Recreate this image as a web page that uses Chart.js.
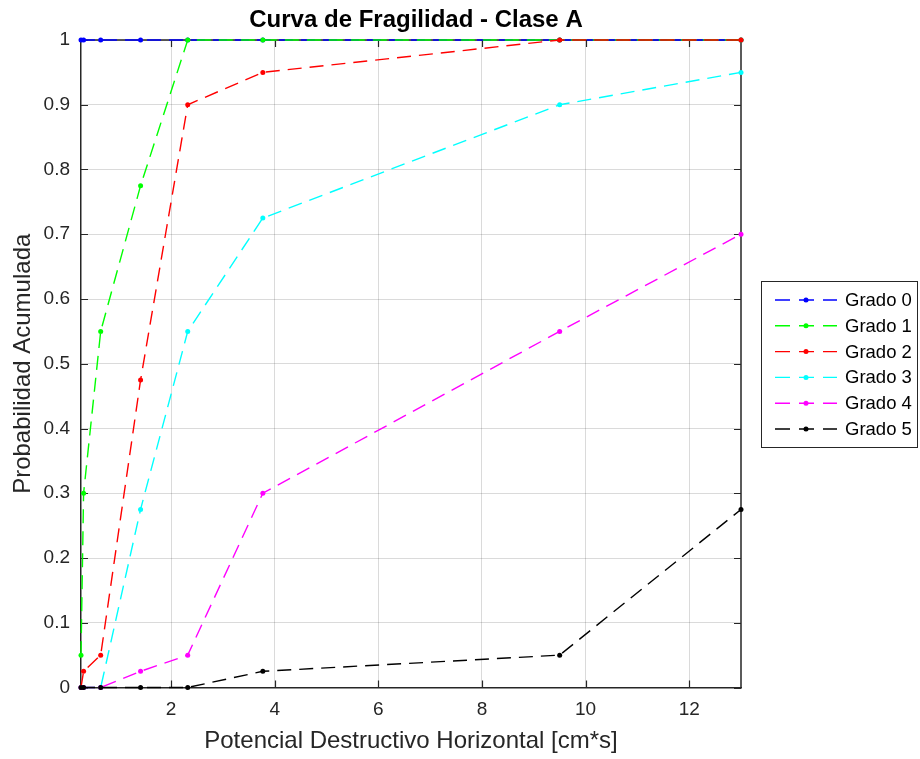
<!DOCTYPE html>
<html>
<head>
<meta charset="utf-8">
<script src="https://cdn.jsdelivr.net/npm/chart.js@4.4.1/dist/chart.umd.min.js"></script>
<style>
    body { margin: 0; background: #fff; }
    canvas { display: block; }
</style>
</head>
<body>
<canvas id="fragility-chart" width="920" height="759"></canvas>
<script>
const xValues = [0.26, 0.31, 0.64, 1.41, 2.32, 3.77, 9.5, 13];
const grado0 = [1, 1, 1, 1, 1, 1, 1, 1];
const grado1 = [0.05, 0.3, 0.55, 0.775, 1, 1, 1, 1];
const grado2 = [0, 0.025, 0.05, 0.475, 0.9, 0.95, 1, 1];
const grado3 = [0, 0, 0, 0.275, 0.55, 0.725, 0.9, 0.95];
const grado4 = [0, 0, 0, 0.025, 0.05, 0.3, 0.55, 0.7];
const grado5 = [0, 0, 0, 0, 0, 0.025, 0.05, 0.275];

const seriesNames = ["Grado 0", "Grado 1", "Grado 2", "Grado 3", "Grado 4", "Grado 5"];
const seriesColors = ["#0000ff", "#00ff00", "#ff0000", "#00ffff", "#ff00ff", "#000000"];
const xTicks = [2, 4, 6, 8, 10, 12];
const yTicks = [0, 0.1, 0.2, 0.3, 0.4, 0.5, 0.6, 0.7, 0.8, 0.9, 1];

const FONT = "'Liberation Sans', Arial, sans-serif";
const AXIS_COLOR = "#262626";
const GRID_COLOR = "rgba(38,38,38,0.17)";

const toPoints = values => values.map((y, i) => ({ x: xValues[i], y }));

const datasets = [grado0, grado1, grado2, grado3, grado4, grado5].map((values, i) => ({
    label: seriesNames[i],
    data: toPoints(values),
    showLine: true,
    borderColor: seriesColors[i],
    backgroundColor: seriesColors[i],
    borderWidth: 1.4,
    borderDash: [14, 8],
    pointRadius: 2.5,
    pointBorderWidth: 0,
    pointHoverRadius: 2.5,
    clip: false,
    // later series sit on top
    order: 10 - i
}));

// box lines on top/right, inward ticks, title and legend
const framePlugin = {
    id: "frame",
    beforeDatasetsDraw(chart) {
        const { ctx, chartArea: a, scales: { x, y } } = chart;
        ctx.save();
        ctx.strokeStyle = AXIS_COLOR;
        ctx.lineWidth = 1.5;
        ctx.beginPath();
        ctx.moveTo(a.left, a.top);
        ctx.lineTo(a.right, a.top);
        ctx.lineTo(a.right, a.bottom);
        ctx.stroke();

        ctx.lineWidth = 1.2;
        const len = 7;
        ctx.beginPath();
        xTicks.forEach(v => {
            const px = Math.round(x.getPixelForValue(v)) + 0.5;
            ctx.moveTo(px, a.bottom);
            ctx.lineTo(px, a.bottom - len);
            ctx.moveTo(px, a.top);
            ctx.lineTo(px, a.top + len);
        });
        yTicks.forEach(v => {
            const py = Math.round(y.getPixelForValue(v)) + 0.5;
            ctx.moveTo(a.left, py);
            ctx.lineTo(a.left + len, py);
            ctx.moveTo(a.right, py);
            ctx.lineTo(a.right - len, py);
        });
        ctx.stroke();
        ctx.restore();
    },
    afterDraw(chart) {
        const { ctx, chartArea: a } = chart;
        ctx.save();

        ctx.fillStyle = "#000";
        ctx.font = `bold 24px ${FONT}`;
        ctx.textAlign = "center";
        ctx.textBaseline = "middle";
        ctx.fillText("Curva de Fragilidad - Clase A", (a.left + a.right) / 2 + 5, 20);

        // legend
        const bx = 761.5, by = 281.5, bw = 156, bh = 166;
        ctx.fillStyle = "#fff";
        ctx.fillRect(bx, by, bw, bh);
        ctx.strokeStyle = AXIS_COLOR;
        ctx.lineWidth = 1;
        ctx.strokeRect(bx, by, bw, bh);

        ctx.font = `18.5px ${FONT}`;
        ctx.textAlign = "left";
        chart.data.datasets.forEach((ds, i) => {
            const ry = 300 + i * 25.8;
            ctx.strokeStyle = ds.borderColor;
            ctx.lineWidth = 1.4;
            ctx.setLineDash([15, 9]);
            ctx.beginPath();
            ctx.moveTo(775, ry);
            ctx.lineTo(837, ry);
            ctx.stroke();
            ctx.setLineDash([]);
            ctx.fillStyle = ds.borderColor;
            ctx.beginPath();
            ctx.arc(806, ry, 2.5, 0, Math.PI * 2);
            ctx.fill();
            ctx.fillStyle = "#000";
            ctx.fillText(ds.label, 845, ry + 1);
        });
        ctx.restore();
    }
};

const ctx = document.getElementById("fragility-chart").getContext("2d");

new Chart(ctx, {
    type: "scatter",
    data: { datasets },
    plugins: [framePlugin],
    options: {
        responsive: false,
        animation: false,
        events: [],
        layout: {
            padding: { left: 0, top: 40, right: 179, bottom: 0 }
        },
        plugins: {
            legend: { display: false },
            tooltip: { enabled: false }
        },
        scales: {
            x: {
                type: "linear",
                min: 0.26,
                max: 13,
                afterBuildTicks: scale => { scale.ticks = xTicks.map(value => ({ value })); },
                afterFit: scale => { scale.height = 71.5; },
                grid: { color: GRID_COLOR, drawTicks: false },
                border: { color: AXIS_COLOR, width: 1.5 },
                ticks: {
                    color: AXIS_COLOR,
                    padding: 11,
                    maxRotation: 0,
                    font: { family: FONT, size: 19 }
                },
                title: {
                    display: true,
                    text: "Potencial Destructivo Horizontal [cm*s]",
                    color: AXIS_COLOR,
                    padding: { top: 0, bottom: 3 },
                    font: { family: FONT, size: 24 }
                }
            },
            y: {
                type: "linear",
                min: 0,
                max: 1,
                afterBuildTicks: scale => { scale.ticks = yTicks.map(value => ({ value })); },
                afterFit: scale => { scale.width = 81; },
                grid: { color: GRID_COLOR, drawTicks: false },
                border: { color: AXIS_COLOR, width: 1.5 },
                ticks: {
                    color: AXIS_COLOR,
                    padding: 11,
                    font: { family: FONT, size: 19 },
                    callback: v => String(+v.toFixed(1))
                },
                title: {
                    display: true,
                    text: "Probabilidad Acumulada",
                    color: AXIS_COLOR,
                    padding: { top: 9, bottom: 0 },
                    font: { family: FONT, size: 24 }
                }
            }
        }
    }
});
</script>
</body>
</html>
